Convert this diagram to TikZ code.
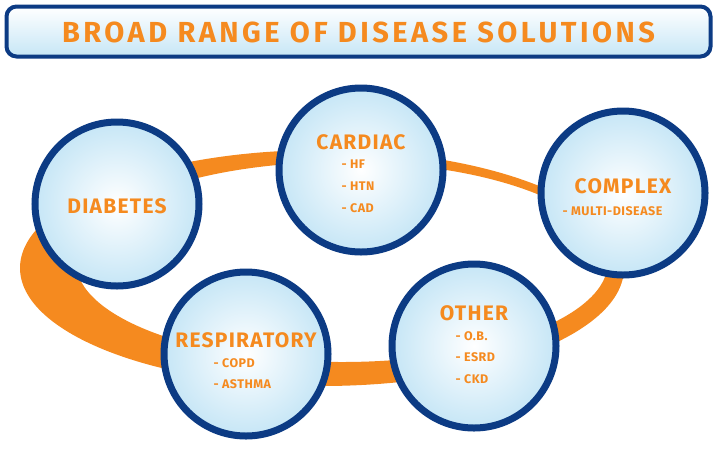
\documentclass[tikz,border=0pt]{standalone}
\usepackage{fontspec}
\setmainfont{Fira Sans}
\newfontfamily\ttlf[LetterSpace=12]{Fira Sans}
\newfontfamily\hdf[LetterSpace=6]{Fira Sans}
\newfontfamily\itf[LetterSpace=4]{Fira Sans}
\definecolor{dblue}{HTML}{0C3B84}
\definecolor{lblue}{HTML}{C6E6F6}
\definecolor{org}{HTML}{F58A1F}
\tikzset{
 disc/.style={circle,minimum size=164pt,draw=dblue,line width=7pt,inner color=white,outer color=lblue},
 hdt/.style={text=org,font=\hdf\bfseries\fontsize{21}{21}\selectfont},
 itm/.style={text=org,font=\itf\bfseries\fontsize{12.5}{12.5}\selectfont,anchor=west},
}
\begin{document}
\begin{tikzpicture}[x=1pt,y=-1pt]
\useasboundingbox (0,0) rectangle (719,448);
\node[draw=dblue,line width=4pt,rounded corners=10pt,top color=white,bottom color=lblue,minimum width=704pt,minimum height=50pt] (title) at (358.5,31.5) {};
\node[text=org,font=\ttlf\bfseries\fontsize{29}{29}\selectfont] (tt) at (358.5,32) {BROAD RANGE OF DISEASE SOLUTIONS};
\fill[org,even odd rule] (322,268) ellipse [x radius=302,y radius=118] (342,262) ellipse [x radius=266,y radius=100];
\node[disc] (d) at (117,204) {};
\node[disc] (c) at (361,170) {};
\node[disc] (x) at (623,193) {};
\node[disc] (r) at (246,354) {};
\node[disc] (o) at (474,346) {};
\node[hdt] (dt) at (117,206) {DIABETES};
\node[hdt] (ct) at (361,142) {CARDIAC};
\node[itm] (c1) at (338,164) {- HF};
\node[itm] (c2) at (338,186) {- HTN};
\node[itm] (c3) at (338,208) {- CAD};
\node[hdt] (xt) at (623,186) {COMPLEX};
\node[itm] (x1) at (559,211) {- MULTI-DISEASE};
\node[hdt] (rt) at (246,340) {RESPIRATORY};
\node[itm] (r1) at (210,363) {- COPD};
\node[itm] (r2) at (210,384) {- ASTHMA};
\node[hdt] (ot) at (474,313) {OTHER};
\node[itm] (o1) at (452,336) {- O.B.};
\node[itm] (o2) at (452,357) {- ESRD};
\node[itm] (o3) at (452,379) {- CKD};
\end{tikzpicture}
\end{document}
